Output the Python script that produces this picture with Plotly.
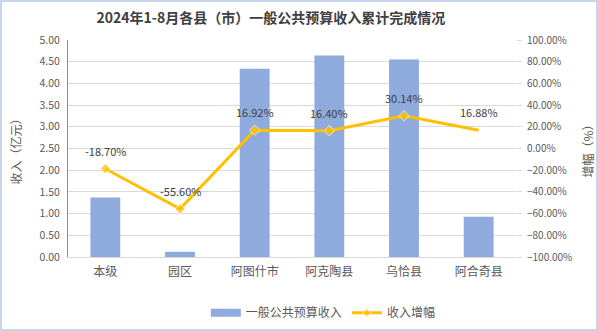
import plotly.graph_objects as go

categories = ["本级", "园区", "阿图什市", "阿克陶县", "乌恰县", "阿合奇县"]
revenue = [1.37, 0.12, 4.34, 4.64, 4.55, 0.93]          # 亿元
growth = [-18.70, -55.60, 16.92, 16.40, 30.14, 16.88]     # %

W, H = 598, 331
ML, MR, MT, MB = 68, 82, 40, 74
font_cn = "Noto Sans CJK SC, Microsoft YaHei, sans-serif"
axis_col = "#595959"
bar_col = "#8FAADC"
line_col = "#FFC000"

fig = go.Figure()
fig.add_trace(go.Bar(
    x=categories, y=revenue, name="一般公共预算收入",
    marker=dict(color=bar_col, line=dict(width=0)),
    width=0.4, yaxis="y", showlegend=False,
))
# wide legend swatch for the bar series
fig.add_trace(go.Scatter(
    x=[None], y=[None], name="一般公共预算收入", mode="lines",
    line=dict(color=bar_col, width=8), yaxis="y",
))
fig.add_trace(go.Scatter(
    x=categories, y=growth, name="收入增幅", yaxis="y2",
    mode="lines+markers",
    line=dict(color=line_col, width=3),
    marker=dict(symbol="diamond", size=[8, 8, 8, 8, 8, 0], color=line_col),
))

pw = W - ML - MR
ph = H - MT - MB

annotations = [
    dict(x=c, y=g, xref="x", yref="y2", text=f"{g:.2f}%", showarrow=False,
         yshift=18, font=dict(size=11, color="#404040", family=font_cn))
    for c, g in zip(categories, growth)
]
# axis titles
annotations += [
    dict(x=(15 - ML) / pw, y=0.5, xref="paper", yref="paper", text="收入（亿元）",
         textangle=-90, showarrow=False, xanchor="center", yanchor="middle",
         font=dict(size=12, color=axis_col, family=font_cn)),
    dict(x=(587 - ML) / pw, y=0.5, xref="paper", yref="paper", text="增幅（%）",
         textangle=-90, showarrow=False, xanchor="center", yanchor="middle",
         font=dict(size=12, color=axis_col, family=font_cn)),
]

fig.update_layout(
    width=W, height=H,
    margin=dict(l=ML, r=MR, t=MT, b=MB, autoexpand=False),
    paper_bgcolor="white", plot_bgcolor="white",
    font=dict(family=font_cn, color=axis_col),
    title=dict(text="<b>2024年1-8月各县（市）一般公共预算收入累计完成情况</b>",
               xref="container", x=0.453, xanchor="center", y=0.945, yanchor="middle",
               font=dict(size=14, color="#404040", family=font_cn)),
    xaxis=dict(showgrid=False, showline=True, linecolor="#D9D9D9", linewidth=1,
               ticks="", ticklabelstandoff=4,
               tickfont=dict(size=12, color=axis_col), automargin=False),
    yaxis=dict(range=[0, 5], dtick=0.5, tickformat=".2f",
               showgrid=True, gridcolor="#D9D9D9", gridwidth=1,
               showline=True, linecolor="#5B9BD5", linewidth=1,
               zeroline=False, ticks="", automargin=False, ticklabelstandoff=5,
               tickfont=dict(size=10.5, color=axis_col)),
    yaxis2=dict(range=[-100, 100], dtick=20, tickformat=".2f", ticksuffix="%",
                overlaying="y", side="right", showgrid=False, zeroline=False,
                showline=False, ticks="outside", ticklen=5, tickcolor="#D9D9D9",
                ticklabelstandoff=3, automargin=False,
                tickfont=dict(size=10, color=axis_col)),
    legend=dict(orientation="h", x=0.57, xanchor="center", y=-0.19, yanchor="top",
                font=dict(size=12, color=axis_col), bgcolor="rgba(0,0,0,0)",
                itemwidth=30),
    annotations=annotations,
    shapes=[dict(type="rect", xref="paper", yref="paper",
                 x0=-(ML - 1) / pw, x1=1 + (MR - 1) / pw,
                 y0=-(MB - 1) / ph, y1=1 + (MT - 1) / ph,
                 line=dict(color="#B4C7E7", width=1.5), fillcolor="rgba(0,0,0,0)")],
)

fig.write_html("out.html")
